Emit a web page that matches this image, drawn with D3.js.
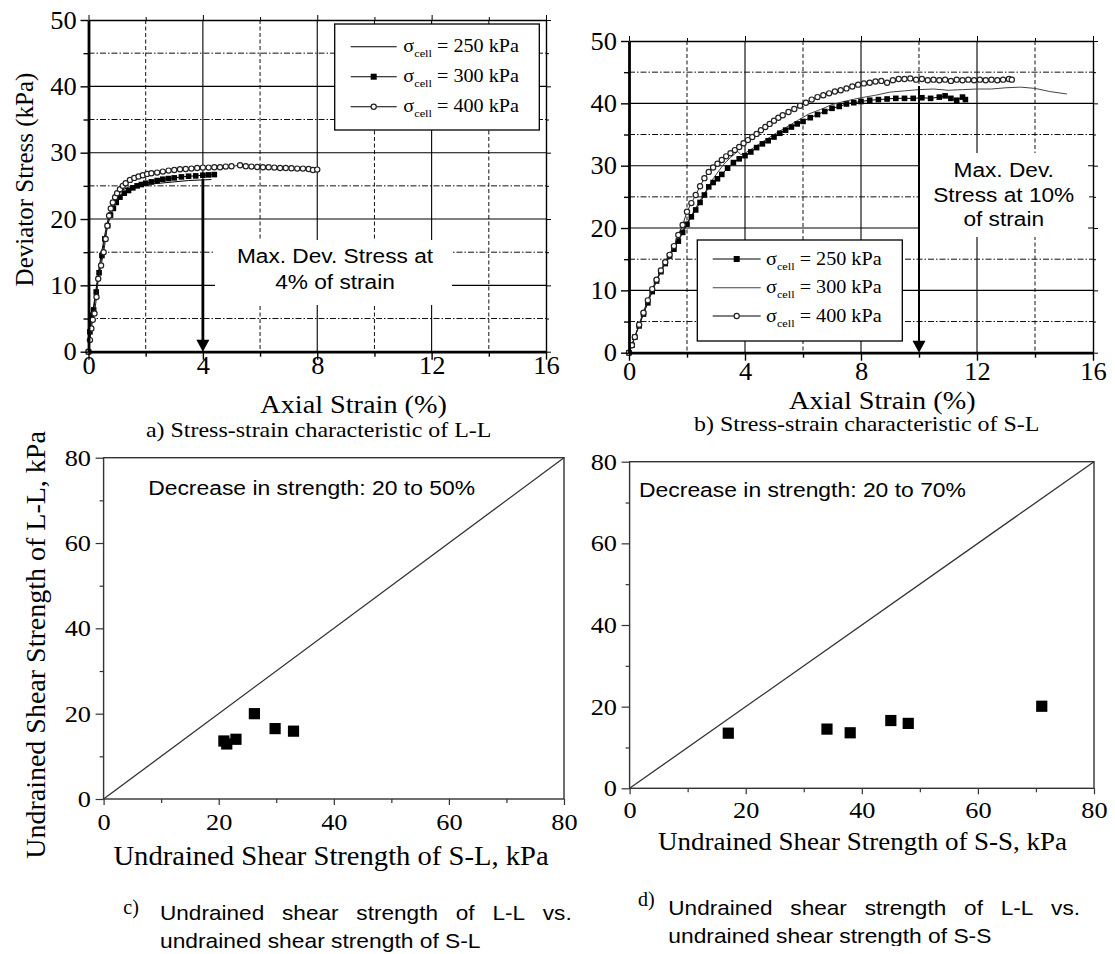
<!DOCTYPE html>
<html><head><meta charset="utf-8">
<script src="https://cdn.jsdelivr.net/npm/d3@7"></script>
<style>body{margin:0;background:#fff} svg{display:block}</style>
</head><body>
<svg id="fig" width="1115" height="954"></svg>
<script>
const SERIF = "'Liberation Serif','Times New Roman',serif";
const SANS = "'Liberation Sans',Arial,sans-serif";

// ---------- tick values ----------
const strainTicks = [0, 4, 8, 12, 16];
const strainMinor = [2, 6, 10, 14];
const stressTicks = [0, 10, 20, 30, 40, 50];
const stressMinor = [5, 15, 25, 35, 45];
const suTicks = [0, 20, 40, 60, 80];
const suMinor = [10, 30, 50, 70];

// ---------- panel a: L-L stress-strain [strain %, deviator stress kPa] ----------
const aCell250 = [[0,0],[0.05,2.5],[0.1,4.5],[0.2,7.5],[0.3,10.5],[0.4,13.5],[0.5,16],[0.6,18.3],[0.7,20.2],[0.8,21.7],[0.9,22.8],[1.0,23.6],[1.2,24.4],[1.4,24.8],[1.6,25.0],[1.8,25.1],[2.0,25.2],[2.5,25.4],[3.0,25.6],[3.5,25.8],[4.0,25.9],[4.3,25.95]];
const aCell300 = [[0,0],[0.05,3],[0.1,5.5],[0.18,6.3],[0.27,9],[0.37,11.9],[0.47,14.5],[0.57,17],[0.67,19],[0.77,20.6],[0.87,21.6],[0.97,22.5],[1.1,23.3],[1.25,23.9],[1.4,24.3],[1.55,24.7],[1.7,25.0],[1.85,25.2],[2.0,25.4],[2.2,25.6],[2.4,25.8],[2.6,26.0],[2.8,26.1],[3.0,26.2],[3.25,26.35],[3.5,26.45],[3.75,26.5],[4.0,26.6],[4.2,26.65],[4.4,26.7]];
const aCell400 = [[0,0],[0.05,1.75],[0.1,3.5],[0.15,4.8],[0.21,5.75],[0.28,8.25],[0.34,11],[0.44,13],[0.53,15],[0.6,17],[0.66,19],[0.72,20.5],[0.78,21.6],[0.85,22.5],[0.93,23.3],[1.0,23.9],[1.1,24.5],[1.2,25.0],[1.3,25.4],[1.45,25.9],[1.6,26.2],[1.75,26.4],[1.9,26.6],[2.05,26.8],[2.2,26.9],[2.4,27.0],[2.6,27.15],[2.8,27.3],[3.0,27.4],[3.2,27.5],[3.4,27.55],[3.6,27.6],[3.8,27.7],[4.0,27.75],[4.2,27.75],[4.4,27.8],[4.6,27.8],[4.8,27.9],[5.0,27.95],[5.3,28.1],[5.5,27.95],[5.7,27.9],[5.9,27.85],[6.1,27.8],[6.3,27.8],[6.5,27.75],[6.7,27.7],[6.9,27.7],[7.1,27.65],[7.3,27.6],[7.5,27.6],[7.7,27.55],[7.85,27.4],[8.0,27.45]];

// ---------- panel b: S-L stress-strain ----------
const bCell250 = [[0,0],[0.1,1.2],[0.2,2.5],[0.35,4.3],[0.5,6.2],[0.65,8.0],[0.8,9.8],[0.95,11.5],[1.1,13.0],[1.25,14.3],[1.4,15.5],[1.55,16.6],[1.7,17.9],[1.85,19.3],[2.0,20.6],[2.15,21.8],[2.3,22.9],[2.45,24.1],[2.6,25.3],[2.75,26.6],[2.9,27.3],[3.05,27.9],[3.2,28.6],[3.4,29.6],[3.6,30.5],[3.8,31.1],[4.0,31.6],[4.2,32.2],[4.4,32.9],[4.6,33.5],[4.8,34.0],[5.0,34.6],[5.2,35.2],[5.4,35.7],[5.6,36.2],[5.8,36.7],[6.0,37.1],[6.25,37.7],[6.5,38.2],[6.75,38.7],[7.0,39.2],[7.25,39.5],[7.5,39.9],[7.75,40.1],[8.0,40.3],[8.3,40.5],[8.6,40.6],[8.9,40.7],[9.2,40.8],[9.5,40.8],[9.8,40.8],[10.1,40.9],[10.4,40.8],[10.7,41.0],[10.9,41.2],[11.1,40.8],[11.3,40.5],[11.5,41.0],[11.6,40.6]];
const bCell300 = [[0,0],[0.1,1.3],[0.3,3.9],[0.5,6.6],[0.7,9.0],[0.9,11.2],[1.1,13.2],[1.3,15.0],[1.5,16.7],[1.7,18.3],[1.9,20.0],[2.1,21.6],[2.3,23.2],[2.5,24.8],[2.7,26.3],[2.9,27.9],[3.1,29.2],[3.3,30.4],[3.5,31.3],[3.65,31.9],[3.75,32.3],[3.85,31.8],[4.0,32.0],[4.3,32.9],[4.6,33.8],[5.0,35.0],[5.4,36.1],[5.8,37.2],[6.2,38.3],[6.6,39.0],[7.0,39.8],[7.5,40.4],[8.0,40.9],[8.5,41.3],[9.0,41.8],[9.5,42.0],[10.0,42.2],[10.5,42.3],[11.0,42.1],[11.5,42.2],[12.0,42.3],[12.5,42.3],[13.0,42.5],[13.5,42.6],[14.0,42.4],[14.5,41.9],[15.1,41.5]];
const bCell400 = [[0,0],[0.1,1.2],[0.2,2.5],[0.35,4.5],[0.5,6.4],[0.65,8.4],[0.8,10.2],[0.95,11.7],[1.1,13.2],[1.25,14.5],[1.4,15.7],[1.55,17.1],[1.7,18.9],[1.85,20.5],[2.0,22.6],[2.15,24.0],[2.3,25.3],[2.45,26.7],[2.6,28.0],[2.75,29.0],[2.9,29.7],[3.05,30.3],[3.2,30.9],[3.35,31.5],[3.5,32.0],[3.65,32.5],[3.8,33.0],[3.95,33.6],[4.1,34.1],[4.25,34.6],[4.4,35.1],[4.55,35.7],[4.7,36.2],[4.85,36.7],[5.0,37.2],[5.15,37.7],[5.3,38.1],[5.5,38.6],[5.7,39.1],[5.9,39.6],[6.1,40.1],[6.3,40.6],[6.5,41.0],[6.7,41.3],[6.9,41.6],[7.1,41.9],[7.3,42.1],[7.5,42.4],[7.7,42.7],[7.9,43.0],[8.1,43.2],[8.3,43.3],[8.5,43.5],[8.7,43.6],[8.9,43.3],[9.1,43.7],[9.3,43.9],[9.5,43.9],[9.7,44.0],[9.9,43.8],[10.1,43.9],[10.3,43.7],[10.5,43.8],[10.7,43.7],[10.9,43.8],[11.1,43.6],[11.3,43.8],[11.5,43.7],[11.7,43.8],[11.9,43.7],[12.1,43.8],[12.3,43.7],[12.5,43.8],[12.7,43.7],[12.9,43.8],[13.1,43.9],[13.2,43.8]];

// ---------- panels c & d: undrained shear strength (kPa) ----------
const cSL = [20.9, 21.4, 23.0, 26.2, 29.8, 33.0];
const cLL = [13.6, 12.9, 14.0, 20.0, 16.5, 15.9];
const dSS = [17, 34, 38, 45, 48, 71];
const dLL = [13.5, 14.5, 13.6, 16.6, 15.9, 20.1];
const equalityLine = [0, 80];

const legendCells = ['250', '300', '400'];

const svg = d3.select('#fig');
svg.append('rect').attr('width', 1115).attr('height', 954).attr('fill', '#fff');

function label(parent, x, y, str, o = {}) {
  const g = parent.append('g').attr('transform',
    `translate(${x},${y})` + (o.rot ? ` rotate(${o.rot})` : '') + ` scale(${o.sx || 1},1)`);
  return g.append('text').attr('font-family', o.font || SERIF).attr('font-size', o.size || 20)
    .attr('text-anchor', o.anchor || 'middle').attr('fill', '#000').text(str);
}

function justified(words, x0, x1, baseline, o) {
  const g = svg.append('g');
  const nodes = words.map(w => g.append('text').attr('font-family', o.font).attr('font-size', o.size)
    .attr('text-anchor', 'start').attr('fill', '#000').text(w));
  const widths = nodes.map(n => n.node().getComputedTextLength() * o.sx);
  const gap = words.length > 1 ? (x1 - x0 - d3.sum(widths)) / (words.length - 1) : 0;
  let cx = x0;
  nodes.forEach((n, i) => { n.attr('transform', `translate(${cx},${baseline}) scale(${o.sx},1)`); cx += widths[i] + gap; });
}

function drawMarkers(g, data, x, y, kind) {
  if (kind === 'square') {
    g.selectAll(null).data(data).join('rect')
      .attr('x', d => x(d[0]) - 2.8).attr('y', d => y(d[1]) - 2.8)
      .attr('width', 5.6).attr('height', 5.6).attr('fill', '#000');
  } else if (kind === 'circle') {
    g.selectAll(null).data(data).join('circle')
      .attr('cx', d => x(d[0])).attr('cy', d => y(d[1])).attr('r', 2.6)
      .attr('fill', '#fff').attr('stroke', '#222').attr('stroke-width', 1.2);
  }
}

function stressPanel(p) {
  const x = d3.scaleLinear().domain([0, 16]).range([p.L, p.R]);
  const y = d3.scaleLinear().domain([0, 50]).range([p.B, p.T]);
  const g = svg.append('g');

  // grid
  const gv = g.append('g');
  gv.selectAll(null).data(strainTicks.slice(1, -1)).join('line')
    .attr('x1', d => x(d)).attr('x2', d => x(d)).attr('y1', p.T).attr('y2', p.B)
    .attr('stroke', '#000').attr('stroke-width', 1.1);
  gv.selectAll(null).data(strainMinor).join('line')
    .attr('x1', d => x(d)).attr('x2', d => x(d)).attr('y1', p.T).attr('y2', p.B)
    .attr('stroke', '#111').attr('stroke-width', 1).attr('stroke-dasharray', '4,2.5');
  gv.selectAll(null).data(stressTicks.slice(1, -1)).join('line')
    .attr('y1', d => y(d)).attr('y2', d => y(d)).attr('x1', p.L).attr('x2', p.R)
    .attr('stroke', '#000').attr('stroke-width', 1.1);
  gv.selectAll(null).data(stressMinor).join('line')
    .attr('y1', d => y(d)).attr('y2', d => y(d)).attr('x1', p.L).attr('x2', p.R)
    .attr('stroke', '#111').attr('stroke-width', 1).attr('stroke-dasharray', '6,2,1.5,2');

  // annotation box (covers grid)
  g.append('rect').attr('x', p.box[0]).attr('y', p.box[1]).attr('width', p.box[2] - p.box[0])
    .attr('height', p.box[3] - p.box[1]).attr('fill', '#fff');

  // series
  const line = d3.line().x(d => x(d[0])).y(d => y(d[1]));
  p.series.forEach(s => {
    g.append('path').datum(s.data).attr('d', line).attr('fill', 'none')
      .attr('stroke', s.color || '#000').attr('stroke-width', s.width || 1);
    drawMarkers(g, s.data, x, y, s.marker);
  });

  // axes
  const axG = (axis, tr) => g.append('g').attr('transform', tr).call(axis);
  const tickStyle = sel => sel.selectAll('.tick line').attr('stroke-width', 1.4);
  const bottom = axG(d3.axisBottom(x).tickValues(strainTicks).tickSize(8).tickSizeOuter(0), `translate(0,${p.B})`);
  bottom.select('.domain').attr('stroke-width', 2.8);
  bottom.call(tickStyle);
  bottom.selectAll('.tick text').attr('font-family', SERIF).attr('font-size', 24.5).attr('fill', '#000')
    .attr('y', p.xLabOff).attr('dy', 0).attr('transform', `scale(${p.sx},1)`);
  axG(d3.axisBottom(x).tickValues(strainMinor).tickSize(5).tickFormat(''), `translate(0,${p.B})`)
    .call(s => s.select('.domain').remove()).call(tickStyle);
  const left = axG(d3.axisLeft(y).tickValues(stressTicks).tickSize(8).tickSizeOuter(0), `translate(${p.L},0)`);
  left.select('.domain').attr('stroke-width', 2.8);
  left.call(tickStyle);
  left.selectAll('.tick text').attr('font-family', SERIF).attr('font-size', 24.5).attr('fill', '#000')
    .attr('x', -p.yLabGap / p.sx).attr('dy', '0.33em').attr('transform', `scale(${p.sx},1)`);
  axG(d3.axisLeft(y).tickValues(stressMinor).tickSize(5).tickFormat(''), `translate(${p.L},0)`)
    .call(s => s.select('.domain').remove()).call(tickStyle);
  const top = axG(d3.axisTop(x).tickValues(strainTicks).tickSize(5).tickSizeOuter(0).tickFormat(''), `translate(0,${p.T})`);
  top.select('.domain').attr('stroke-width', 1.4);
  axG(d3.axisTop(x).tickValues(strainMinor).tickSize(3).tickFormat(''), `translate(0,${p.T})`)
    .call(s => s.select('.domain').remove());
  const right = axG(d3.axisRight(y).tickValues(stressTicks).tickSize(5).tickSizeOuter(0).tickFormat(''), `translate(${p.R},0)`);
  right.select('.domain').attr('stroke-width', 1.4);
  axG(d3.axisRight(y).tickValues(stressMinor).tickSize(3).tickFormat(''), `translate(${p.R},0)`)
    .call(s => s.select('.domain').remove());

  // arrow
  const ax = x(p.arrowAt);
  g.append('line').attr('x1', ax).attr('x2', ax).attr('y1', y(p.arrowFrom)).attr('y2', y(0) - 8)
    .attr('stroke', '#000').attr('stroke-width', p.arrowW);
  g.append('path').attr('d', `M${ax - 6.5},${y(0) - 12} L${ax + 6.5},${y(0) - 12} L${ax},${y(0)} Z`).attr('fill', '#000');

  // annotation text
  p.note.forEach((t, i) => label(g, p.noteX, p.noteY[i], t, { font: SANS, size: 21, sx: 1.08 }));

  // legend
  const lg = g.append('g');
  lg.append('rect').attr('x', p.leg.x0).attr('y', p.leg.y0).attr('width', p.leg.x1 - p.leg.x0)
    .attr('height', p.leg.y1 - p.leg.y0).attr('fill', '#fff').attr('stroke', '#000').attr('stroke-width', 1.3);
  p.legItems.forEach((it, i) => {
    const cy = p.leg.rows[i];
    lg.append('line').attr('x1', p.leg.l0).attr('x2', p.leg.l1).attr('y1', cy).attr('y2', cy)
      .attr('stroke', it.color || '#000').attr('stroke-width', 1.1);
    const mx = (p.leg.l0 + p.leg.l1) / 2;
    if (it.marker === 'square') lg.append('rect').attr('x', mx - 3).attr('y', cy - 3).attr('width', 6).attr('height', 6).attr('fill', '#000');
    if (it.marker === 'circle') lg.append('circle').attr('cx', mx).attr('cy', cy).attr('r', 2.6).attr('fill', '#fff').attr('stroke', '#222').attr('stroke-width', 1.2);
    const t = lg.append('g').attr('transform', `translate(${p.leg.tx},${cy + 5.5}) scale(1.12,1)`)
      .append('text').attr('font-family', SERIF).attr('font-size', 18).attr('fill', '#000');
    t.append('tspan').text('σ');
    t.append('tspan').attr('font-size', 11).attr('dy', 5).text('cell');
    t.append('tspan').attr('dy', -5).text(` = ${it.cell} kPa`);
  });

  // axis title + caption
  label(svg, p.xTitle[0], p.xTitle[1], 'Axial Strain (%)', { size: 25, sx: 1.13 });
  if (p.yTitle) label(svg, p.yTitle[0], p.yTitle[1], 'Deviator Stress (kPa)', { size: 25, rot: -90 });
  label(svg, p.cap[0], p.cap[1], p.capText, { size: 21, sx: 1.14, anchor: 'start' });
}

stressPanel({
  L: 88.5, R: 546, T: 20, B: 351.7, sx: 1.08, xLabOff: 22, yLabGap: 11.7,
  series: [
    { data: aCell250, marker: null },
    { data: aCell300, marker: 'square' },
    { data: aCell400, marker: 'circle', color: '#222' }
  ],
  box: [215, 240, 452, 305],
  arrowAt: 4, arrowFrom: 26, arrowW: 2.8,
  note: ['Max. Dev. Stress  at', '4% of strain'], noteX: 335, noteY: [263.3, 289],
  leg: { x0: 334.7, y0: 24, x1: 539.3, y1: 130, rows: [46.7, 76.7, 106.7], l0: 350.7, l1: 396.7, tx: 403.3 },
  legItems: [{ cell: legendCells[0] }, { cell: legendCells[1], marker: 'square' }, { cell: legendCells[2], marker: 'circle' }],
  xTitle: [353.6, 413.3], yTitle: [33, 179.5],
  cap: [146, 437], capText: 'a) Stress-strain characteristic of L-L'
});

stressPanel({
  L: 629, R: 1093, T: 41, B: 352.7, sx: 1.08, xLabOff: 27, yLabGap: 12,
  series: [
    { data: bCell300, marker: null, color: '#444' },
    { data: bCell250, marker: 'square' },
    { data: bCell400, marker: 'circle', color: '#222' }
  ],
  box: [920, 153, 1088, 237],
  arrowAt: 10, arrowFrom: 42.8, arrowW: 2,
  note: ['Max. Dev.', 'Stress at 10%', 'of strain'], noteX: 1003.7, noteY: [176.7, 201.7, 226.2],
  leg: { x0: 697.3, y0: 240, x1: 902.3, y1: 341, rows: [259, 287.7, 316], l0: 712.7, l1: 760.7, tx: 766 },
  legItems: [{ cell: legendCells[0], marker: 'square' }, { cell: legendCells[1], color: '#444' }, { cell: legendCells[2], marker: 'circle' }],
  xTitle: [882.3, 409], yTitle: null,
  cap: [694, 431], capText: 'b) Stress-strain characteristic of S-L'
});

function suPanel(p) {
  const x = d3.scaleLinear().domain([0, 80]).range([p.L, p.R]);
  const y = d3.scaleLinear().domain([0, 80]).range([p.B, p.T]);
  const g = svg.append('g');
  const axG = (axis, tr) => g.append('g').attr('transform', tr).call(axis);
  const bottom = axG(d3.axisBottom(x).tickValues(suTicks).tickSize(6).tickSizeOuter(0), `translate(0,${p.B})`);
  bottom.selectAll('.tick line').attr('stroke', '#333').attr('stroke-width', 1.2);
  bottom.selectAll('.tick text').attr('font-family', SERIF).attr('font-size', 22.5).attr('fill', '#000')
    .attr('y', p.xLabOff).attr('dy', 0).attr('transform', 'scale(1.17,1)');
  axG(d3.axisBottom(x).tickValues(suMinor).tickSize(4).tickFormat(''), `translate(0,${p.B})`)
    .call(s => s.select('.domain').remove()).selectAll('.tick line').attr('stroke', '#333').attr('stroke-width', 1.2);
  const left = axG(d3.axisLeft(y).tickValues(suTicks).tickSize(8).tickSizeOuter(0), `translate(${p.L},0)`);
  left.selectAll('.tick line').attr('stroke', '#333').attr('stroke-width', 1.2);
  left.selectAll('.tick text').attr('font-family', SERIF).attr('font-size', 22.5).attr('fill', '#000')
    .attr('x', -12.6 / 1.17).attr('dy', '0.33em').attr('transform', 'scale(1.17,1)');
  axG(d3.axisLeft(y).tickValues(suMinor).tickSize(4).tickFormat(''), `translate(${p.L},0)`)
    .call(s => s.select('.domain').remove()).selectAll('.tick line').attr('stroke', '#333').attr('stroke-width', 1.2);
  g.selectAll('.domain').remove();
  g.append('rect').attr('x', p.L).attr('y', p.T).attr('width', p.R - p.L).attr('height', p.B - p.T)
    .attr('fill', 'none').attr('stroke', '#333').attr('stroke-width', 1.4);

  g.append('path').datum(equalityLine.map(v => [v, v]))
    .attr('d', d3.line().x(d => x(d[0])).y(d => y(d[1])))
    .attr('stroke', '#333').attr('stroke-width', 1.3).attr('fill', 'none');

  g.selectAll(null).data(p.xs.map((v, i) => [v, p.ys[i]])).join('rect')
    .attr('x', d => x(d[0]) - 5.6).attr('y', d => y(d[1]) - 5.6)
    .attr('width', 11.2).attr('height', 11.2).attr('fill', '#000');

  label(g, p.note[0], p.note[1], p.noteText, { font: SANS, size: 21, sx: 1.09 });
  label(svg, p.xTitle[0], p.xTitle[1], p.xTitleText, { size: p.xTitleSize, sx: p.xTitleSx });
  if (p.yTitle) label(svg, p.yTitle[0], p.yTitle[1], p.yTitleText, { size: 28, rot: -90 });
}

suPanel({
  L: 103.6, R: 564, T: 457.7, B: 799, xLabOff: 31.5,
  xs: cSL, ys: cLL,
  note: [311.6, 495], noteText: 'Decrease in strength: 20 to 50%',
  xTitle: [331, 865], xTitleText: 'Undrained Shear Strength of S-L, kPa', xTitleSize: 27.5, xTitleSx: 1.04,
  yTitle: [45, 645], yTitleText: 'Undrained Shear Strength of L-L, kPa'
});
suPanel({
  L: 629.6, R: 1094, T: 461.7, B: 788.3, xLabOff: 29.5,
  xs: dSS, ys: dLL,
  note: [802.5, 496.7], noteText: 'Decrease in strength: 20 to 70%',
  xTitle: [862.5, 849.5], xTitleText: 'Undrained Shear Strength of S-S, kPa', xTitleSize: 25, xTitleSx: 1.08,
  yTitle: null
});

// captions c and d
label(svg, 123.3, 914, 'c)', { size: 20, anchor: 'start' });
justified(['Undrained', 'shear', 'strength', 'of', 'L-L', 'vs.'], 160, 571.7, 920, { font: SANS, size: 20, sx: 1.13 });
label(svg, 160, 948.3, 'undrained shear strength of S-L', { font: SANS, size: 20, sx: 1.14, anchor: 'start' });
label(svg, 638, 906, 'd)', { size: 20, anchor: 'start' });
justified(['Undrained', 'shear', 'strength', 'of', 'L-L', 'vs.'], 668.3, 1080, 915, { font: SANS, size: 20, sx: 1.13 });
label(svg, 668.3, 943.3, 'undrained shear strength of S-S', { font: SANS, size: 20, sx: 1.14, anchor: 'start' });
svg.append('rect').attr('x', 600).attr('y', 946).attr('width', 515).attr('height', 8).attr('fill', '#fff');
</script>
</body></html>
